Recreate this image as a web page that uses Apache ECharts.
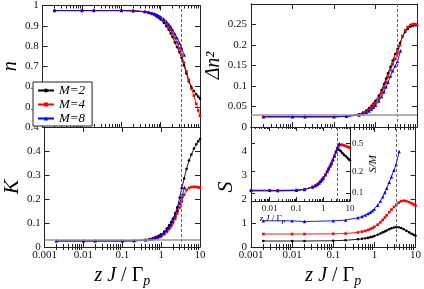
<!DOCTYPE html>
<html><head><meta charset="utf-8">
<script src="https://cdn.jsdelivr.net/npm/echarts@6/dist/echarts.min.js"></script>
<style>html,body{margin:0;padding:0;background:#fff}#c{width:424px;height:289px}</style>
</head><body><div id="c"></div>
<script>
// ---------- data ----------
const xAll = [0.002, 0.01, 0.02, 0.1, 0.2, 0.4, 0.5, 0.6, 0.7, 0.8, 0.9, 1.0, 1.2, 1.4, 1.6, 1.8, 2.0, 2.3, 2.6, 3.0, 3.4, 3.9, 4.5, 5.2, 6.0, 7.0, 8.0, 9.0, 10];
const x8 = [0.002, 0.01, 0.02, 0.1, 0.2, 0.4, 0.5, 0.6, 0.7, 0.8, 0.9, 1.0, 1.2, 1.4, 1.6, 1.8, 2.0, 2.3, 2.6, 3.0, 3.4, 4.0];

const nM2 = [0.975,0.975,0.975,0.975,0.973,0.968,0.963,0.958,0.952,0.945,0.938,0.931,0.915,0.898,0.88,0.862,0.845,0.818,0.795,0.77,0.742,0.705,0.665,0.625,0.598,0.578,0.562,0.55,0.54];
const nM4 = [0.975,0.975,0.975,0.975,0.974,0.969,0.965,0.96,0.955,0.95,0.944,0.938,0.925,0.91,0.895,0.88,0.864,0.84,0.818,0.79,0.758,0.718,0.675,0.632,0.59,0.555,0.515,0.482,0.455];
const nM8 = [0.975,0.975,0.975,0.975,0.974,0.97,0.967,0.963,0.959,0.954,0.949,0.944,0.933,0.921,0.908,0.895,0.88,0.86,0.84,0.815,0.79,0.755];

const kM2 = [0.025,0.025,0.025,0.025,0.026,0.03,0.033,0.036,0.04,0.044,0.048,0.053,0.064,0.077,0.09,0.104,0.118,0.14,0.165,0.205,0.245,0.285,0.325,0.36,0.385,0.41,0.428,0.44,0.45];
const kM4 = [0.025,0.025,0.025,0.025,0.025,0.028,0.03,0.032,0.035,0.038,0.041,0.045,0.053,0.063,0.074,0.086,0.099,0.118,0.14,0.165,0.19,0.218,0.237,0.246,0.25,0.251,0.25,0.249,0.247];
const kM8 = [0.026,0.026,0.026,0.026,0.027,0.03,0.032,0.035,0.038,0.042,0.046,0.05,0.059,0.07,0.082,0.095,0.108,0.13,0.153,0.183,0.21,0.248];

const dnM2 = [0.025,0.025,0.025,0.025,0.026,0.031,0.035,0.04,0.046,0.052,0.058,0.064,0.076,0.09,0.105,0.118,0.131,0.147,0.162,0.178,0.19,0.205,0.221,0.232,0.239,0.245,0.247,0.248,0.248];
const dnM4 = [0.025,0.025,0.025,0.025,0.026,0.03,0.033,0.037,0.042,0.047,0.052,0.058,0.069,0.082,0.096,0.109,0.122,0.139,0.153,0.166,0.18,0.2,0.222,0.236,0.244,0.249,0.251,0.251,0.25];
const dnM8 = [0.025,0.025,0.025,0.025,0.026,0.029,0.032,0.035,0.039,0.043,0.048,0.053,0.063,0.074,0.086,0.098,0.109,0.124,0.137,0.149,0.16,0.186];

const sM2 = [0.25,0.25,0.25,0.26,0.28,0.32,0.34,0.36,0.38,0.41,0.43,0.46,0.51,0.56,0.61,0.65,0.69,0.74,0.78,0.81,0.83,0.82,0.79,0.74,0.68,0.61,0.55,0.51,0.47];
const sM4 = [0.54,0.54,0.54,0.55,0.56,0.61,0.64,0.67,0.71,0.75,0.79,0.84,0.93,1.03,1.13,1.23,1.32,1.45,1.56,1.67,1.76,1.85,1.91,1.93,1.91,1.87,1.82,1.77,1.72];
const sM8 = [1.09,1.09,1.06,1.09,1.12,1.22,1.27,1.33,1.39,1.45,1.51,1.58,1.74,1.91,2.09,2.27,2.45,2.7,2.93,3.2,3.45,3.98];

// inset: S/M
const rM2 = [0.107,0.107,0.107,0.108,0.112,0.121,0.126,0.132,0.138,0.146,0.154,0.163,0.18,0.2,0.22,0.24,0.26,0.29,0.33,0.38,0.415,0.41,0.39,0.365,0.345,0.33,0.315,0.3,0.29];
const rM4 = [0.109,0.109,0.109,0.11,0.113,0.122,0.127,0.133,0.139,0.147,0.155,0.164,0.181,0.201,0.221,0.242,0.262,0.295,0.335,0.385,0.43,0.465,0.478,0.478,0.47,0.46,0.45,0.44,0.43];
const rM8 = [0.109,0.109,0.108,0.109,0.112,0.121,0.126,0.132,0.138,0.146,0.154,0.163,0.18,0.2,0.22,0.241,0.261,0.293,0.333,0.385,0.44,0.5];

const seriesNames = ['M=2', 'M=4', 'M=8'];
const xMajorTicks = [0.001, 0.01, 0.1, 1, 10];
const insetXTicks = [0.01, 0.1, 1, 10];
const insetYTicks = [0.1, 0.2, 0.5];
const dashX = 3.35;
const refLevel = 0.025;

// ---------- chart ----------
const FONT = '"Liberation Serif", "Times New Roman", serif';
const LC = '#222';
const minorVals = [];
for (let d = -3; d <= 0; d++) for (let k = 2; k <= 9; k++) minorVals.push(+(k * Math.pow(10, d)).toPrecision(3));

const pair = (xs, ys) => xs.map((x, i) => [x, ys[i]]);

const xAxes = [], yAxes = [];
function addX(gi, min, max, major, showLabels, fs, tickLen, minorLen, extra) {
  const common = {type: 'log', logBase: 10, gridIndex: gi, min: min, max: max, splitLine: {show: false}, silent: true};
  const idx = xAxes.length;
  xAxes.push(Object.assign({}, common, {
    position: 'bottom',
    axisLine: {show: true, onZero: false, lineStyle: {color: LC, width: 1}},
    axisTick: {show: true, inside: true, length: tickLen, customValues: major, lineStyle: {color: LC}},
    axisLabel: {show: showLabels, customValues: major, margin: 3, fontFamily: FONT, fontSize: fs, color: '#111', formatter: v => String(v)}
  }, extra || {}));
  xAxes.push(Object.assign({}, common, {position: 'bottom', axisLine: {show: false},
    axisTick: {show: true, inside: true, length: minorLen, customValues: minorVals, lineStyle: {color: LC}}, axisLabel: {show: false}}));
  xAxes.push(Object.assign({}, common, {position: 'top', axisLine: {show: true, onZero: false, lineStyle: {color: LC, width: 1}},
    axisTick: {show: true, inside: true, length: tickLen, customValues: major, lineStyle: {color: LC}}, axisLabel: {show: false}}));
  xAxes.push(Object.assign({}, common, {position: 'top', axisLine: {show: false},
    axisTick: {show: true, inside: true, length: minorLen, customValues: minorVals, lineStyle: {color: LC}}, axisLabel: {show: false}}));
  return idx;
}
function addY(gi, min, max, interval, showMax, extra) {
  const common = {type: 'value', gridIndex: gi, min: min, max: max, interval: interval, splitLine: {show: false}, silent: true};
  const idx = yAxes.length;
  yAxes.push(Object.assign({}, common, {position: 'left',
    axisLine: {show: true, onZero: false, lineStyle: {color: LC, width: 1}},
    axisTick: {show: true, inside: true, length: 5, lineStyle: {color: LC}},
    axisLabel: {show: true, showMaxLabel: showMax, margin: 4, fontFamily: FONT, fontSize: 11, color: '#111'}
  }, extra || {}));
  yAxes.push(Object.assign({}, common, {position: 'right',
    axisLine: {show: true, onZero: false, lineStyle: {color: LC, width: 1}},
    axisTick: {show: true, inside: true, length: 5, lineStyle: {color: LC}}, axisLabel: {show: false}}));
  return idx;
}

const yName = (txt, gap, size) => ({name: txt, nameLocation: 'middle', nameRotate: 90, nameGap: gap,
  nameTextStyle: {fontFamily: FONT, fontStyle: 'italic', fontSize: size, color: '#000'}});
const xName = (gap, size, subSize, pad) => ({
  name: '{i|z J} / Γ{s|p}', nameLocation: 'middle', nameGap: gap,
  nameTextStyle: {fontFamily: FONT, fontSize: size, color: '#000', padding: pad || 0,
    rich: {i: {fontFamily: FONT, fontStyle: 'italic', fontSize: size, color: '#000'},
           s: {fontFamily: FONT, fontStyle: 'italic', fontSize: subSize, color: '#000', padding: [Math.round(size * 0.55), 0, 0, 0]}}}
});

const grids = [
  {left: 33, top: 4, width: 167, height: 123},
  {left: 33, top: 127, width: 167, height: 123},
  {left: 251, top: 4, width: 166, height: 123},
  {left: 251, top: 127, width: 166, height: 123},
  {left: 251, top: 127, width: 99, height: 74, show: true, backgroundColor: '#fff', borderWidth: 0, z: 1}
];

const xTL = addX(0, 0.001, 10, xMajorTicks, false, 11, 5, 3);
const xBL = addX(1, 0.001, 10, xMajorTicks, true, 11, 5, 3, xName(16, 20, 14));
const xTR = addX(2, 0.001, 10, xMajorTicks, false, 11, 5, 3);
const xBR = addX(3, 0.001, 10, xMajorTicks, true, 11, 5, 3, xName(16, 20, 14));
const xIN = addX(4, 0.002, 10, insetXTicks, true, 9, 4, 2, xName(11, 9, 7, [0, 56, 0, 0]));
xAxes.slice(xIN).forEach(a => a.z = 4);

const yTL = addY(0, 0.4, 1, 0.1, true, yName('n', 13, 20));
const yBL = addY(1, 0, 0.5, 0.1, false, yName('K', 14, 22));
const yTR = addY(2, 0, 0.3, 0.05, false, yName('Δn²', 8, 20));
const yBR = addY(3, 0, 5, 1, false, yName('S', 12, 22));
const yIN = yAxes.length;
yAxes.push({type: 'log', logBase: 10, gridIndex: 4, min: 0.077, max: 0.855, position: 'right', silent: true, z: 4,
  splitLine: {show: false},
  axisLine: {show: true, onZero: false, lineStyle: {color: LC, width: 1}},
  axisTick: {show: true, inside: true, length: 4, customValues: insetYTicks, lineStyle: {color: LC}},
  axisLabel: {show: true, customValues: insetYTicks, margin: 2, fontFamily: FONT, fontSize: 9, color: '#111', formatter: v => String(v)},
  name: 'S/M', nameLocation: 'middle', nameRotate: 90, nameGap: 15,
  nameTextStyle: {fontFamily: FONT, fontStyle: 'italic', fontSize: 11, color: '#000'}});
yAxes.push({type: 'log', logBase: 10, gridIndex: 4, min: 0.077, max: 0.855, position: 'left', silent: true, z: 4,
  splitLine: {show: false},
  axisLine: {show: true, onZero: false, lineStyle: {color: LC, width: 1}},
  axisTick: {show: true, inside: true, length: 4, customValues: insetYTicks, lineStyle: {color: LC}},
  axisLabel: {show: false}});

const styles = [
  {color: '#000000', symbol: 'circle', size: 2.6},
  {color: '#ff0000', symbol: 'rect', size: 2.6},
  {color: '#0000ff', symbol: 'triangle', size: 3.4}
];

function mk(k, xs, ys, xi, yi, z, markY) {
  const st = styles[k];
  const s = {type: 'line', name: seriesNames[k], data: pair(xs, ys), xAxisIndex: xi, yAxisIndex: yi,
    symbol: st.symbol, symbolSize: st.size, showSymbol: true, showAllSymbol: true,
    lineStyle: {color: st.color, width: 0.9}, itemStyle: {color: st.color}, animation: false, z: z || 2};
  if (k === 0) {
    const d = [{xAxis: dashX, lineStyle: {type: [3, 2], color: '#666', width: 1}}];
    if (markY) d.push({yAxis: refLevel, lineStyle: {type: 'solid', color: '#9a9a9a', width: 1.5}});
    s.markLine = {silent: true, symbol: ['none', 'none'], label: {show: false}, animation: false, data: d};
  }
  return s;
}

const series = [
  mk(0, xAll, nM2, xTL, yTL), mk(1, xAll, nM4, xTL, yTL), mk(2, x8, nM8, xTL, yTL),
  mk(0, xAll, kM2, xBL, yBL, 2, true), mk(1, xAll, kM4, xBL, yBL), mk(2, x8, kM8, xBL, yBL),
  mk(0, xAll, dnM2, xTR, yTR, 2, true), mk(1, xAll, dnM4, xTR, yTR), mk(2, x8, dnM8, xTR, yTR),
  mk(0, xAll, sM2, xBR, yBR), mk(1, xAll, sM4, xBR, yBR), mk(2, x8, sM8, xBR, yBR),
  mk(0, xAll, rM2, xIN, yIN, 5), mk(1, xAll, rM4, xIN, yIN, 5), mk(2, x8, rM8, xIN, yIN, 5)
];

const chart = echarts.init(document.getElementById('c'), null, {renderer: 'canvas', width: 424, height: 289});
chart.setOption({
  animation: false,
  backgroundColor: '#fff',
  grid: grids,
  xAxis: xAxes,
  yAxis: yAxes,
  legend: {
    data: seriesNames, left: 33, top: 82, orient: 'vertical',
    padding: [2, 7, 1, 4], itemGap: 1, itemWidth: 16, itemHeight: 5,
    borderColor: '#222', borderWidth: 1, backgroundColor: '#fff',
    textStyle: {fontFamily: FONT, fontStyle: 'italic', fontSize: 13, lineHeight: 13, color: '#000'},
    selectedMode: false, z: 10
  },
  series: series
});
</script>
</body></html>
